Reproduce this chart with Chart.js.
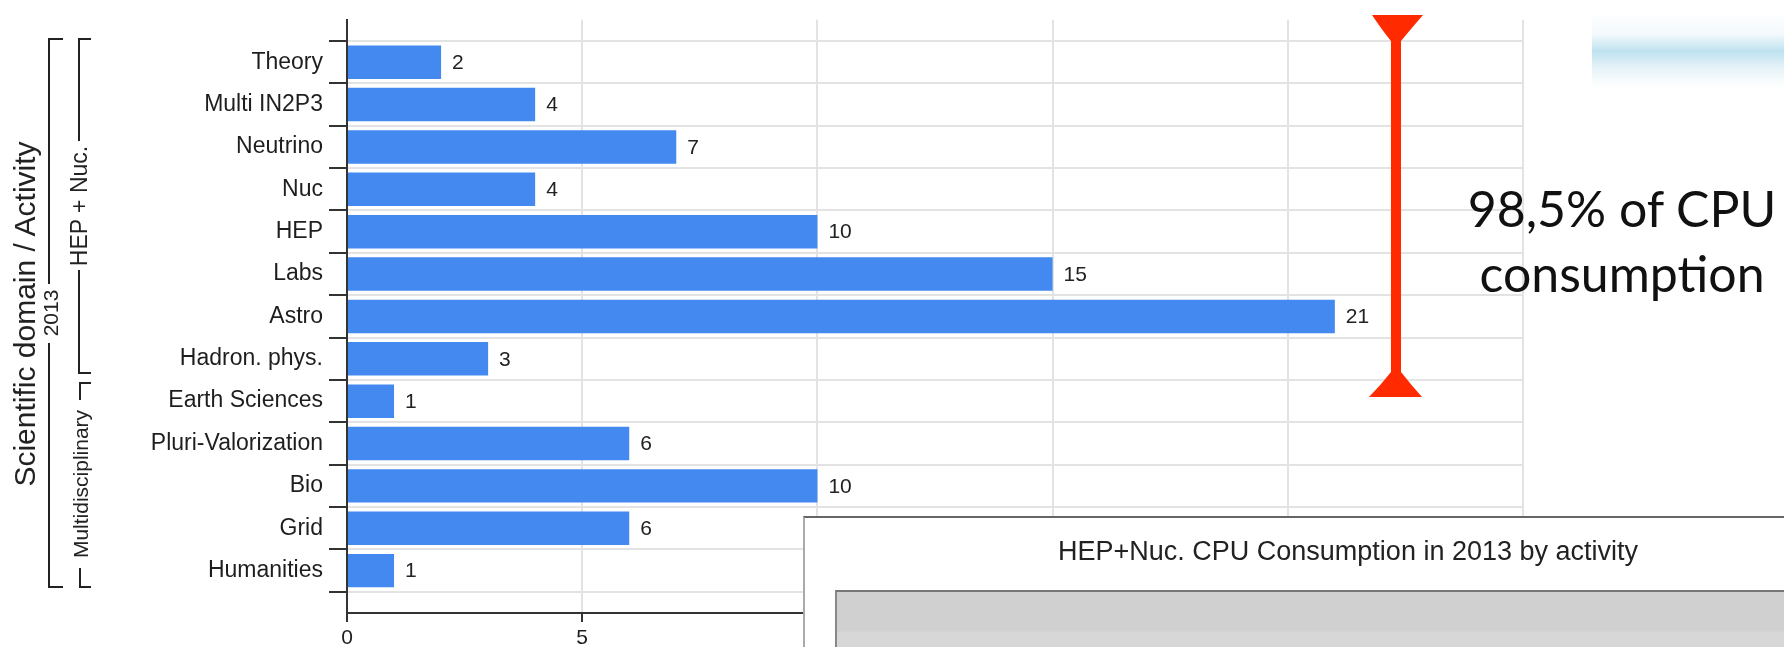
<!DOCTYPE html>
<html>
<head>
<meta charset="utf-8">
<title>CPU consumption by activity</title>
<script src="https://cdn.jsdelivr.net/npm/chart.js@4.4.1/dist/chart.umd.min.js"></script>
<style>
  html, body { margin: 0; padding: 0; background: #fff; }
  #page { position: relative; width: 1784px; height: 647px; overflow: hidden; }
  #productionChart { position: absolute; left: 0; top: 0; }
  #deco { position: absolute; left: 0; top: 0; }
  #note {
    position: absolute; left: 1422px; top: 176px; width: 400px;
    text-align: center; font-family: Lato, "Open Sans", sans-serif;
    font-size: 50px; line-height: 65px; color: #111;
  }
  #glow {
    position: absolute; left: 1592px; top: 12px; width: 192px; height: 75px;
    background: linear-gradient(to bottom, #fff 0%, #f2f9fc 30%, #bfe2f0 52%, #e6f3f8 75%, #fff 100%);
  }
  #panel {
    position: absolute; left: 803px; top: 516px; width: 1000px; height: 200px;
    background: #fff; border-top: 2px solid #666; border-left: 2px solid #aaa;
  }
  #panelTitle {
    position: absolute; left: 1058px; top: 536px;
    font-family: "Liberation Sans", Arial, sans-serif; font-size: 27px; color: #222;
    white-space: nowrap;
  }
  #panelPlot {
    position: absolute; left: 835px; top: 590px; width: 1000px; height: 100px;
    border-top: 2px solid #777; border-left: 2px solid #888;
    background: linear-gradient(to bottom, #d0d0d0 0px, #d0d0d0 39px, #d7d7d7 40px, #d7d7d7 100%);
  }
</style>
</head>
<body>
<div id="page">
  <canvas id="productionChart" width="1784" height="647"></canvas>

  <svg id="deco" width="1784" height="647">
    <g stroke="#222" stroke-width="2" fill="none">
      <!-- outer bracket : 2013 -->
      <polyline points="63,39 49,39 49,284"/>
      <polyline points="49,343 49,587 63,587"/>
      <!-- HEP + Nuc. -->
      <polyline points="91,39 79,39 79,141"/>
      <polyline points="79,270 79,373 91,373"/>
      <!-- Multidisciplinary -->
      <polyline points="91,383 80,383 80,400"/>
      <polyline points="80,568 80,587 91,587"/>
    </g>
    <g font-family="Liberation Sans, Arial, sans-serif" fill="#222" text-anchor="middle" dominant-baseline="central">
      <text transform="translate(24,314) rotate(-90)" font-size="30">Scientific domain / Activity</text>
      <text transform="translate(50,313) rotate(-90)" font-size="21">2013</text>
      <text transform="translate(79,206) rotate(-90)" font-size="23">HEP + Nuc.</text>
      <text transform="translate(80,484) rotate(-90)" font-size="21">Multidisciplinary</text>
    </g>
    <path fill="#ff2a00" d="M1372,15 L1423,15 Q1410,30 1401,41 L1401,372 Q1412,386 1422,397 L1369,397 Q1380,386 1391,372 L1391,41 Q1382,30 1372,15 Z"/>
  </svg>

  <div id="glow"></div>
  <div id="note">98,5% of CPU<br>consumption</div>

  <div id="panel"></div>
  <div id="panelTitle">HEP+Nuc. CPU Consumption in 2013 by activity</div>
  <div id="panelPlot"></div>
</div>

<script>
const categories = [
  'Theory', 'Multi IN2P3', 'Neutrino', 'Nuc', 'HEP', 'Labs', 'Astro',
  'Hadron. phys.', 'Earth Sciences', 'Pluri-Valorization', 'Bio', 'Grid', 'Humanities'
];
const projectCounts = [2, 4, 7, 4, 10, 15, 21, 3, 1, 6, 10, 6, 1];
const xTickValues = [0, 5, 10, 15, 20, 25];

// empty slots above and below, like the original axis
const axisLabels = ['', ...categories, ''];
const axisData = [null, ...projectCounts, null];

const valueLabels = {
  id: 'valueLabels',
  afterDatasetsDraw(chart) {
    const ctx = chart.ctx;
    const meta = chart.getDatasetMeta(0);
    ctx.save();
    ctx.font = '21px "Liberation Sans", Arial, sans-serif';
    ctx.fillStyle = '#222';
    ctx.textBaseline = 'middle';
    ctx.textAlign = 'left';
    meta.data.forEach((bar, i) => {
      const v = axisData[i];
      if (v === null) return;
      ctx.fillText(String(v), bar.x + 11, bar.y + 1);
    });
    ctx.restore();
  }
};

const ctx = document.getElementById('productionChart').getContext('2d');
new Chart(ctx, {
  type: 'bar',
  data: {
    labels: axisLabels,
    datasets: [{
      data: axisData,
      backgroundColor: '#4389ef',
      borderWidth: 0,
      categoryPercentage: 1,
      barPercentage: 0.79
    }]
  },
  options: {
    indexAxis: 'y',
    responsive: false,
    animation: false,
    devicePixelRatio: 1,
    layout: { padding: { top: 13, right: 261, left: 0, bottom: 0 } },
    plugins: {
      legend: { display: false },
      tooltip: { enabled: false }
    },
    scales: {
      y: {
        type: 'category',
        offset: false,
        afterFit: s => { s.width = 347; },
        grid: {
          color: '#e3e3e3', lineWidth: 2,
          tickColor: '#333', tickWidth: 2, tickLength: 18
        },
        border: { color: '#333', width: 2 },
        ticks: {
          autoSkip: false,
          padding: 6,
          color: '#1e1e1e',
          font: { family: '"Liberation Sans", Arial, sans-serif', size: 23 }
        }
      },
      x: {
        min: xTickValues[0],
        max: xTickValues[xTickValues.length - 1],
        afterFit: s => { s.height = 34; },
        afterBuildTicks: s => { s.ticks = xTickValues.map(v => ({ value: v })); },
        grid: {
          color: '#e3e3e3', lineWidth: 2,
          tickColor: '#333', tickWidth: 2, tickLength: 9
        },
        border: { color: '#333', width: 2 },
        ticks: {
          padding: 4,
          color: '#1e1e1e',
          font: { family: '"Liberation Sans", Arial, sans-serif', size: 21 }
        }
      }
    }
  },
  plugins: [valueLabels]
});
</script>
</body>
</html>
